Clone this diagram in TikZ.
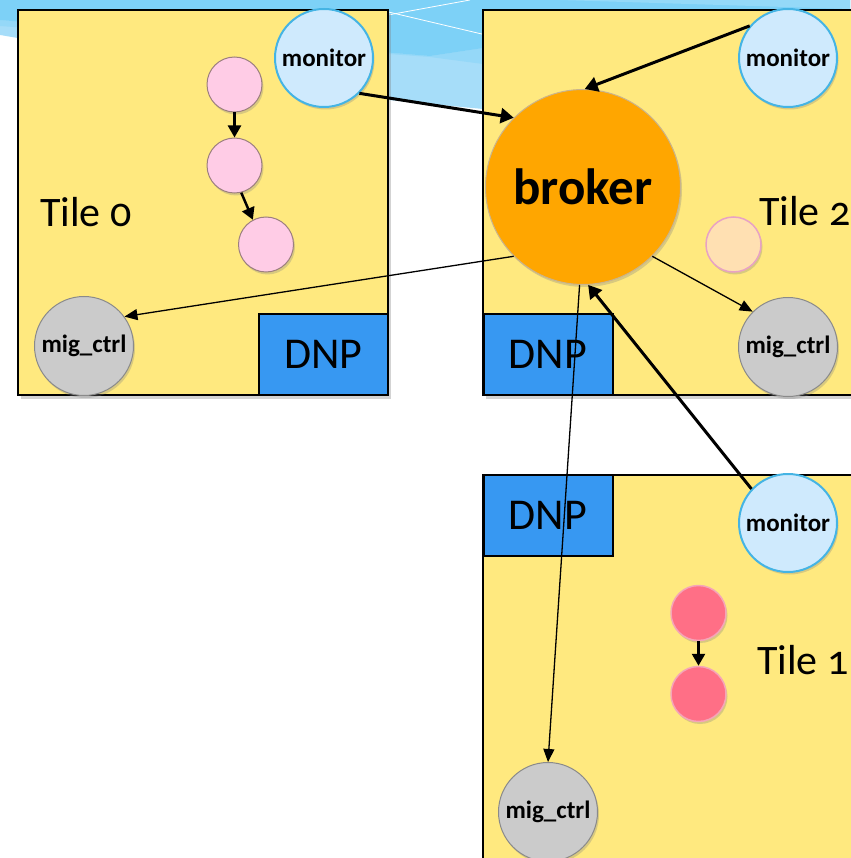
\documentclass[tikz,border=0pt]{standalone}
\usepackage{fontspec}
\setmainfont{Carlito}[Numbers=OldStyle]
\usetikzlibrary{arrows.meta,shadows}
\definecolor{tilefill}{HTML}{FFE97F}
\definecolor{dnpblue}{HTML}{3798F2}
\definecolor{monfill}{HTML}{CFEAFD}
\definecolor{monline}{HTML}{45B4E4}
\definecolor{migfill}{HTML}{CBCBCB}
\definecolor{migline}{HTML}{8A8A8A}
\definecolor{brokfill}{HTML}{FFA600}
\definecolor{brokline}{HTML}{C9B48E}
\definecolor{pinkfill}{HTML}{FFCCE6}
\definecolor{pinkline}{HTML}{9C7F7F}
\definecolor{peachfill}{HTML}{FFE0B2}
\definecolor{peachline}{HTML}{E8A2C4}
\definecolor{redfill}{HTML}{FF6F86}
\definecolor{redline}{HTML}{F5A5B8}
\definecolor{swdark}{HTML}{7DD1F7}
\definecolor{swlight}{HTML}{A6DDF9}
\definecolor{swwedge}{HTML}{95D8F8}
\definecolor{swmid}{HTML}{94D9F8}
\begin{document}
\begin{tikzpicture}[x=1pt,y=-1pt,
  tile/.style={draw=black,line width=2.5pt,fill=tilefill,inner sep=0pt,
    drop shadow={shadow xshift=3pt,shadow yshift=-4pt,opacity=0.35}},
  dnpbox/.style={draw=black,line width=2pt,fill=dnpblue,inner sep=0pt,
    minimum width=129,minimum height=81,font=\fontsize{44}{48}\selectfont},
  ball/.style={circle,inner sep=0pt,line width=1pt,
    drop shadow={shadow xshift=1.5pt,shadow yshift=-2.5pt,opacity=0.3}},
  monitor/.style={ball,draw=monline,line width=2pt,fill=monfill,minimum size=98,
    font=\bfseries\fontsize{25}{28}\selectfont},
  migctrl/.style={ball,draw=migline,fill=migfill,minimum size=99,
    font=\bfseries\fontsize{25}{28}\selectfont},
  brokerball/.style={ball,draw=brokline,fill=brokfill,minimum size=195,
    font=\bfseries\fontsize{51}{56}\selectfont},
  pinkball/.style={ball,draw=pinkline,fill=pinkfill,minimum size=55},
  peachball/.style={ball,draw=peachline,line width=1.5pt,fill=peachfill,minimum size=55},
  redball/.style={ball,draw=redline,line width=1.5pt,fill=redfill,minimum size=55},
  tilelabel/.style={inner sep=0pt,font=\fontsize{42}{46}\selectfont},
  thick arrow/.style={line width=3pt,-{Triangle[length=13pt,width=15pt]}},
  thin arrow/.style={line width=1.3pt,-{Triangle[length=13pt,width=11pt]}},
  small arrow/.style={line width=2.5pt,-{Triangle[length=12pt,width=13pt]}},
]
\useasboundingbox (0,0) rectangle (850,858);
% background swoosh
\fill[swlight] (0,0) -- (850,0) -- (850,150) -- (483,109) -- (388,100) -- (0,35) -- cycle;
\fill[swwedge] (0,20) -- (430,56) -- (483,48) -- (483,64) -- (430,57) -- (0,26) -- cycle;
\fill[swdark] (0,0) -- (850,0) -- (850,20) -- (483,48) -- (430,56) -- (0,20) -- cycle;
\fill[swmid] (560,0) -- (850,0) -- (850,9) -- cycle;
\draw[white,line width=0.8pt] (388,15) -- (470,0);
\draw[white,line width=0.8pt] (380,10) -- (486,35);

% tiles
\node[tile,minimum width=370,minimum height=385] (tile0) at (203,202.5) {};
\node[tile,minimum width=400,minimum height=385] (tile2) at (683,202.5) {};
\node[tile,minimum width=400,minimum height=420] (tile1) at (683,685) {};

% DNP boxes
\node[dnpbox] (dnp0) at (323.5,354.5) {DNP};
\node[dnpbox] (dnp2) at (548,354.5) {DNP};
\node[dnpbox] (dnp1) at (548,515.5) {DNP};

% tile labels
\node[tilelabel,anchor=west] (lab0) at (40,212) {Tile 0};
\node[tilelabel,anchor=west] (lab2) at (759,211) {Tile 2};
\node[tilelabel,anchor=west] (lab1) at (757,660) {Tile 1};

% monitors
\node[monitor] (mon0) at (324,58) {monitor};
\node[monitor] (mon2) at (788,58) {monitor};
\node[monitor] (mon1) at (788,523) {monitor};

% mig_ctrl
\node[migctrl] (mig0) at (84,346) {mig\_ctrl};
\node[migctrl] (mig2) at (788,347) {mig\_ctrl};
\node[migctrl] (mig1) at (548,812) {mig\_ctrl};

% broker
\node[brokerball] (broker) at (583,187) {broker};

% small processes
\node[pinkball] (p1) at (234.5,84.5) {};
\node[pinkball] (p2) at (234.5,165.5) {};
\node[pinkball] (p3) at (266,244.5) {};
\node[peachball] (q1) at (733.5,244.5) {};
\node[redball] (r1) at (698.5,613) {};
\node[redball] (r2) at (698.5,694) {};

% connectors
\draw[thick arrow] (mon0.-45) -- (broker.135);
\draw[thick arrow] (mon2.140) -- (broker.89);
\draw[thin arrow] (broker.225) -- (mig0.36);
\draw[thin arrow] (broker.-45) -- (mig2.135);
\draw[thin arrow] (broker.-92) -- (mig1.90);
\draw[thick arrow] (mon1.137) -- (broker.-87);
\draw[small arrow] (p1.south) -- (p2.north);
\draw[small arrow] (p2.-76) -- (p3.118);
\draw[small arrow] (r1.south) -- (r2.north);
\end{tikzpicture}
\end{document}
